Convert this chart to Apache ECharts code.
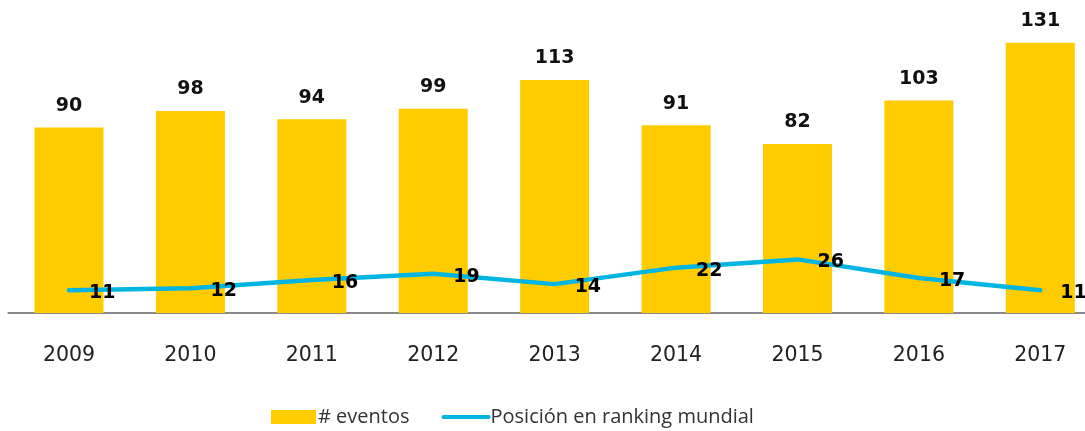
<!DOCTYPE html>
<html>
<head>
<meta charset="utf-8">
<script src="https://cdn.jsdelivr.net/npm/echarts@6/dist/echarts.min.js"></script>
<style>
html,body{margin:0;padding:0;background:#fff;}
#chart{width:1085px;height:431px;}
</style>
</head>
<body>
<div id="chart"></div>
<script>
const years = ['2009','2010','2011','2012','2013','2014','2015','2016','2017'];
const eventos = [90, 98, 94, 99, 113, 91, 82, 103, 131];
const ranking = [11, 12, 16, 19, 14, 22, 26, 17, 11];
const seriesNames = ['# eventos', 'Posición en ranking mundial'];

const chart = echarts.init(document.getElementById('chart'));
chart.setOption({
  animation: false,
  backgroundColor: '#ffffff',
  textStyle: { fontFamily: 'DejaVu Sans' },
  grid: { left: 8.3, top: 24.3, right: -16, bottom: 118, outerBoundsMode: 'none' },
  legend: {
    left: 266,
    top: 402,
    itemGap: 32,
    itemWidth: 45,
    itemHeight: 14,
    textStyle: { fontSize: 20, color: '#333', fontFamily: 'Open Sans', padding: [0, 0, 0, -3] },
    data: [
      { name: seriesNames[0], icon: 'rect' },
      { name: seriesNames[1], itemStyle: { opacity: 0 }, lineStyle: { width: 4, color: '#00B5E2', cap: 'round' } }
    ]
  },
  xAxis: {
    type: 'category',
    data: years,
    axisLine: { lineStyle: { color: '#8a8a8a', width: 2 } },
    axisTick: { show: false },
    axisLabel: { color: '#222', fontSize: 20.5, margin: 32, fontFamily: 'DejaVu Sans' }
  },
  yAxis: {
    type: 'value',
    min: 0,
    max: 140,
    show: false,
    splitLine: { show: false }
  },
  series: [
    {
      name: seriesNames[0],
      type: 'bar',
      data: eventos,
      barWidth: 69,
      itemStyle: { color: '#FFCC00' },
      label: {
        show: true,
        position: 'top',
        distance: 12,
        color: '#111',
        fontSize: 19,
        fontWeight: 'bold',
        fontFamily: 'DejaVu Sans'
      }
    },
    {
      name: seriesNames[1],
      type: 'line',
      data: ranking,
      symbol: 'none',
      lineStyle: { color: '#00B5E2', width: 4.5, cap: 'round', join: 'round' },
      itemStyle: { color: '#00B5E2' }
    },
    {
      name: 'ranking-labels',
      type: 'scatter',
      data: ranking,
      symbol: 'circle',
      symbolSize: 0,
      itemStyle: { color: '#00B5E2' },
      z: 5,
      label: {
        show: true,
        position: 'right',
        distance: 20,
        offset: [0, 3],
        color: '#000',
        opacity: 1,
        fontSize: 19,
        fontWeight: 'bold',
        fontFamily: 'DejaVu Sans'
      }
    }
  ]
});
</script>
</body>
</html>
